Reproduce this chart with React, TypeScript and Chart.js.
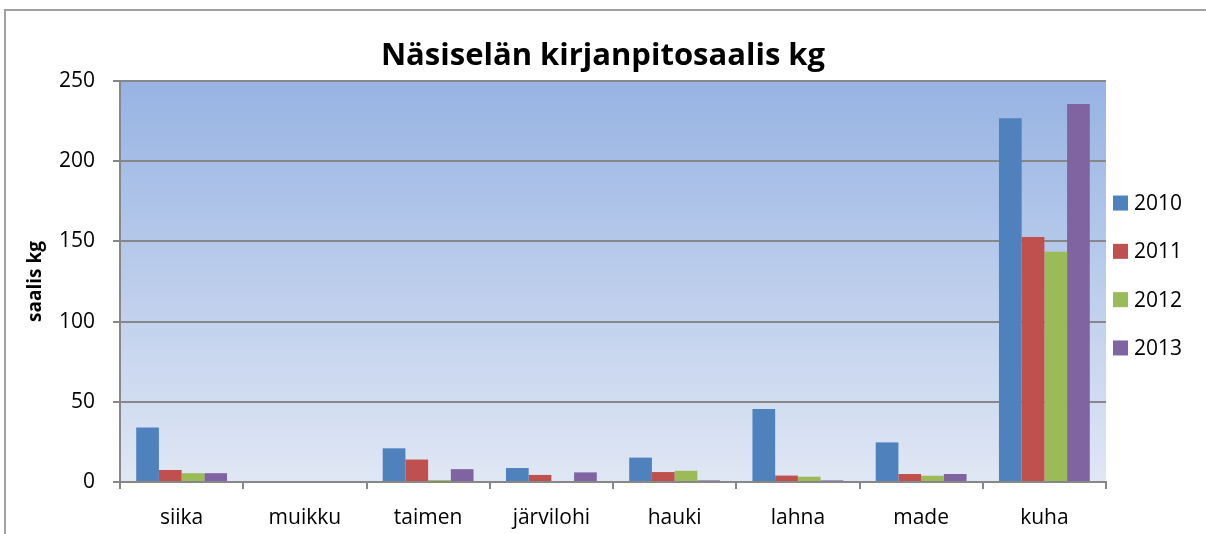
import React, { useEffect, useRef } from "react";
import { Chart, registerables } from "chart.js";

Chart.register(...registerables);

const categories = ["siika", "muikku", "taimen", "järvilohi", "hauki", "lahna", "made", "kuha"];
const years = ["2010", "2011", "2012", "2013"];
const values2010 = [34, 0, 21, 8.7, 15.2, 45.5, 24.7, 226.7];
const values2011 = [7.5, 0, 14, 4.4, 6.2, 4, 5, 152.7];
const values2012 = [5.5, 0, 1.2, 0, 7, 3.3, 3.9, 143.6];
const values2013 = [5.5, 0, 8, 6, 1, 1, 5, 235.7];
const seriesColors = ["#4F81BD", "#C0504D", "#9BBB59", "#8064A2"];
const yTicks = [0, 50, 100, 150, 200, 250];

const FONT = "'Open Sans', 'Noto Sans', sans-serif";

const bgPlugin = {
  id: "plotBg",
  beforeDraw(chart: any) {
    const { ctx, chartArea } = chart;
    if (!chartArea) return;
    const g = ctx.createLinearGradient(0, chartArea.top, 0, chartArea.bottom);
    g.addColorStop(0, "#97b3e3");
    g.addColorStop(1, "#e0e7f4");
    ctx.save();
    ctx.fillStyle = g;
    ctx.fillRect(chartArea.left, chartArea.top, chartArea.right - chartArea.left, chartArea.bottom - chartArea.top);
    ctx.restore();
  },
};

const legendPlugin = {
  id: "sideLegend",
  afterDraw(chart: any) {
    const { ctx, chartArea } = chart;
    const ds = chart.data.datasets;
    const n = ds.length;
    const x = chartArea.right + 7;
    const cy = (chartArea.top + chartArea.bottom) / 2 - 6;
    const spacing = 48.3;
    ctx.save();
    ctx.font = `21px ${FONT}`;
    ctx.textBaseline = "middle";
    ctx.textAlign = "left";
    ds.forEach((d: any, i: number) => {
      const y = cy + (i - (n - 1) / 2) * spacing;
      ctx.fillStyle = d.backgroundColor;
      ctx.fillRect(x, y - 7.5, 15, 15);
      ctx.fillStyle = "#000";
      ctx.fillText(d.label, x + 21, y + 1);
    });
    ctx.restore();
  },
};

export default function App() {
  const ref = useRef<HTMLCanvasElement>(null);
  useEffect(() => {
    const seriesValues = [values2010, values2011, values2012, values2013];
    const chart = new Chart(ref.current!, {
      type: "bar",
      data: {
        labels: categories,
        datasets: years.map((y, i) => ({
          label: y,
          data: seriesValues[i],
          backgroundColor: seriesColors[i],
          borderWidth: 0,
          categoryPercentage: 0.737,
          barPercentage: 1,
        })),
      },
      options: {
        animation: false,
        responsive: false,
        maintainAspectRatio: false,
        layout: { padding: 0 },
        plugins: {
          legend: { display: false },
          tooltip: { enabled: false },
          title: {
            display: true,
            text: "Näsiselän kirjanpitosaalis kg",
            color: "#000",
            font: { family: FONT, size: 31, weight: "bold", lineHeight: 1.2 },
            padding: { top: 37.4, bottom: 6.4 },
          },
        },
        scales: {
          x: {
            afterFit: (s: any) => { s.height = 52; },
            grid: { drawOnChartArea: false, drawTicks: true, tickLength: 7, color: "#878787", lineWidth: 2 },
            border: { display: true, color: "#878787", width: 2 },
            ticks: { color: "#000", font: { family: FONT, size: 21 }, padding: 16, maxRotation: 0, autoSkip: false },
          },
          y: {
            min: 0,
            max: 250,
            afterFit: (s: any) => { s.width = 120; },
            afterBuildTicks: (s: any) => { s.ticks = yTicks.map((v) => ({ value: v })); },
            grid: { color: "#878787", lineWidth: 2, drawTicks: true, tickLength: 7 },
            border: { display: true, color: "#878787", width: 2 },
            ticks: { color: "#000", font: { family: FONT, size: 21 }, padding: 18 },
            title: {
              display: true,
              text: "saalis kg",
              color: "#000",
              font: { family: FONT, size: 19, weight: "bold", lineHeight: 1.2 },
              padding: { top: 24, bottom: 0 },
            },
          },
          legendSpace: {
            position: "right",
            display: true,
            afterFit: (s: any) => { s.width = 100; },
            grid: { display: false, drawTicks: false },
            border: { display: false },
            ticks: { display: false },
          },
        },
      },
      plugins: [bgPlugin, legendPlugin],
    });
    return () => chart.destroy();
  }, []);

  return (
    <div style={{ position: "fixed", left: 0, top: 0, width: 1206, height: 534, background: "#fff", overflow: "hidden" }}>
      <div style={{ position: "absolute", left: 4, top: 9, width: 1300, height: 700, borderTop: "2px solid #a0a0a0", borderLeft: "2px solid #a0a0a0", boxSizing: "border-box" }} />
      <canvas ref={ref} width={1206} height={534} style={{ position: "absolute", left: 0, top: 0 }} />
    </div>
  );
}
